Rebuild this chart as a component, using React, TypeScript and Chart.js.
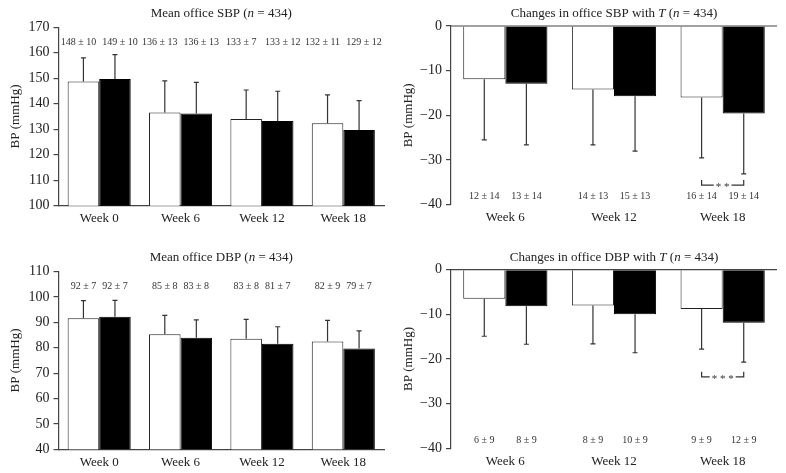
import React, { useEffect, useRef } from 'react';
import { Chart, registerables } from 'chart.js';

Chart.register(...registerables);

const FONT = '"Liberation Serif", "Times New Roman", serif';

// ---------- data ----------
const weeksAll = ['Week 0', 'Week 6', 'Week 12', 'Week 18'];
const weeksChange = ['Week 6', 'Week 12', 'Week 18'];

// Mean office SBP
const sbpWhite = [148.7, 136.6, 134.0, 132.4];
const sbpBlack = [149.7, 136.2, 133.2, 129.7];
const sbpWhiteErr = [9.3, 12.4, 11.4, 11.1];
const sbpBlackErr = [9.6, 12.2, 11.7, 11.5];
const sbpWhiteText = ['148 ± 10', '136 ± 13', '133 ± 7', '132 ± 11'];
const sbpBlackText = ['149 ± 10', '136 ± 13', '133 ± 12', '129 ± 12'];

// Mean office DBP
const dbpWhite = [91.7, 85.3, 83.6, 82.5];
const dbpBlack = [92.2, 84.0, 81.6, 79.7];
const dbpWhiteErr = [6.9, 7.5, 7.6, 8.3];
const dbpBlackErr = [6.5, 7.0, 6.7, 7.0];
const dbpWhiteText = ['92 ± 7', '85 ± 8', '83 ± 8', '82 ± 9'];
const dbpBlackText = ['92 ± 7', '83 ± 8', '81 ± 7', '79 ± 7'];

// Changes in office SBP
const dSbpWhite = [-11.9, -14.2, -16.0];
const dSbpBlack = [-12.9, -15.7, -19.6];
const dSbpWhiteErr = [13.6, 12.4, 13.5];
const dSbpBlackErr = [13.7, 12.3, 13.5];
const dSbpWhiteText = ['12 ± 14', '14 ± 13', '16 ± 14'];
const dSbpBlackText = ['13 ± 14', '15 ± 13', '19 ± 14'];

// Changes in office DBP
const dDbpWhite = [-6.5, -8.0, -8.8];
const dDbpBlack = [-8.2, -10.0, -11.9];
const dDbpWhiteErr = [8.4, 8.6, 9.0];
const dDbpBlackErr = [8.5, 8.6, 8.8];
const dDbpWhiteText = ['6 ± 9', '8 ± 9', '9 ± 9'];
const dDbpBlackText = ['8 ± 9', '10 ± 9', '12 ± 9'];

type Seg = { t: string; i?: boolean };

interface Panel {
  left: number; top: number; w: number; h: number;
  labels: string[];
  white: number[]; black: number[];
  whiteErr: number[]; blackErr: number[];
  whiteText: string[]; blackText: string[];
  min: number; max: number;
  title: Seg[];
  titleY: number;
  chartTop: number; chartBottom: number; yWidth: number; padRight: number;
  textOffset: number; textFromBottom: boolean; textShift: number;
  zeroLine: boolean;
  sig?: { index: number; value: number; text: string };
}

const fmt = (v: any) => {
  const n = Number(v);
  return n < 0 ? '\u2212' + Math.abs(n) : String(n);
};

const overlay = (p: Panel) => ({
  id: 'overlay',
  afterDatasetsDraw(chart: any) {
    const ctx = chart.ctx as CanvasRenderingContext2D;
    const area = chart.chartArea;
    const y = chart.scales.y;
    ctx.save();
    if (p.zeroLine) {
      const zy = y.getPixelForValue(0);
      ctx.strokeStyle = '#444';
      ctx.lineWidth = 1.2;
      ctx.beginPath();
      ctx.moveTo(area.left, zy);
      ctx.lineTo(area.right, zy);
      ctx.stroke();
    }
    const vals = [p.white, p.black];
    const errs = [p.whiteErr, p.blackErr];
    const texts = [p.whiteText, p.blackText];
    for (let d = 0; d < 2; d++) {
      const meta = chart.getDatasetMeta(d);
      meta.data.forEach((bar: any, i: number) => {
        const v = vals[d][i];
        const e = errs[d][i];
        const end = v >= 0 ? v + e : v - e;
        const y0 = y.getPixelForValue(v);
        const y1 = y.getPixelForValue(end);
        ctx.strokeStyle = '#333';
        ctx.lineWidth = 1.2;
        ctx.beginPath();
        ctx.moveTo(bar.x, y0);
        ctx.lineTo(bar.x, y1);
        ctx.moveTo(bar.x - 2.5, y1);
        ctx.lineTo(bar.x + 2.5, y1);
        ctx.stroke();
        ctx.fillStyle = '#333';
        ctx.font = `10px ${FONT}`;
        ctx.textAlign = 'center';
        ctx.textBaseline = 'middle';
        const ty = p.textFromBottom ? area.bottom - p.textOffset : area.top + p.textOffset;
        const shift = d === 0 ? -p.textShift : p.textShift;
        ctx.fillText(texts[d][i], bar.x + shift, ty);
      });
    }
    if (p.sig) {
      const x1 = chart.getDatasetMeta(0).data[p.sig.index].x;
      const x2 = chart.getDatasetMeta(1).data[p.sig.index].x;
      const yb = y.getPixelForValue(p.sig.value);
      ctx.font = `11px ${FONT}`;
      const tw = ctx.measureText(p.sig.text).width;
      const mid = (x1 + x2) / 2;
      ctx.strokeStyle = '#333';
      ctx.lineWidth = 1.2;
      ctx.beginPath();
      ctx.moveTo(x1, yb - 5);
      ctx.lineTo(x1, yb);
      ctx.lineTo(mid - tw / 2 - 2, yb);
      ctx.moveTo(mid + tw / 2 + 2, yb);
      ctx.lineTo(x2, yb);
      ctx.lineTo(x2, yb - 5);
      ctx.stroke();
      ctx.fillStyle = '#333';
      ctx.textAlign = 'center';
      ctx.textBaseline = 'alphabetic';
      ctx.fillText(p.sig.text, mid, yb + 5);
    }
    // title with italic segments
    const fontN = `13px ${FONT}`;
    const fontI = `italic 13px ${FONT}`;
    let total = 0;
    for (const s of p.title) {
      ctx.font = s.i ? fontI : fontN;
      total += ctx.measureText(s.t).width;
    }
    let x = (area.left + area.right) / 2 - total / 2;
    ctx.fillStyle = '#222';
    ctx.textAlign = 'left';
    ctx.textBaseline = 'middle';
    for (const s of p.title) {
      ctx.font = s.i ? fontI : fontN;
      ctx.fillText(s.t, x, p.titleY);
      x += ctx.measureText(s.t).width;
    }
    ctx.restore();
  },
});

const panels: Panel[] = [
  {
    left: 0, top: 0, w: 393, h: 236,
    labels: weeksAll,
    white: sbpWhite, black: sbpBlack, whiteErr: sbpWhiteErr, blackErr: sbpBlackErr,
    whiteText: sbpWhiteText, blackText: sbpBlackText,
    min: 100, max: 170,
    title: [{ t: 'Mean office SBP (' }, { t: 'n', i: true }, { t: ' = 434)' }],
    titleY: 14,
    chartTop: 27.3, chartBottom: 205.7, yWidth: 58.5, padRight: 9,
    textOffset: 14.7, textFromBottom: false, textShift: 5, zeroLine: false,
  },
  {
    left: 393, top: 0, w: 393, h: 236,
    labels: weeksChange,
    white: dSbpWhite, black: dSbpBlack, whiteErr: dSbpWhiteErr, blackErr: dSbpBlackErr,
    whiteText: dSbpWhiteText, blackText: dSbpBlackText,
    min: -40, max: 0,
    title: [{ t: 'Changes in office SBP with ' }, { t: 'T', i: true }, { t: ' (' }, { t: 'n', i: true }, { t: ' = 434)' }],
    titleY: 14,
    chartTop: 26, chartBottom: 204.7, yWidth: 58, padRight: 9,
    textOffset: 8, textFromBottom: true, textShift: 0, zeroLine: true,
    sig: { index: 2, value: -35.6, text: '* *' },
  },
  {
    left: 0, top: 236, w: 393, h: 237,
    labels: weeksAll,
    white: dbpWhite, black: dbpBlack, whiteErr: dbpWhiteErr, blackErr: dbpBlackErr,
    whiteText: dbpWhiteText, blackText: dbpBlackText,
    min: 40, max: 110,
    title: [{ t: 'Mean office DBP (' }, { t: 'n', i: true }, { t: ' = 434)' }],
    titleY: 21.5,
    chartTop: 35.7, chartBottom: 213.3, yWidth: 58.5, padRight: 9,
    textOffset: 14.3, textFromBottom: false, textShift: 0, zeroLine: false,
  },
  {
    left: 393, top: 236, w: 393, h: 237,
    labels: weeksChange,
    white: dDbpWhite, black: dDbpBlack, whiteErr: dDbpWhiteErr, blackErr: dDbpBlackErr,
    whiteText: dDbpWhiteText, blackText: dDbpBlackText,
    min: -40, max: 0,
    title: [{ t: 'Changes in office DBP with ' }, { t: 'T', i: true }, { t: ' (' }, { t: 'n', i: true }, { t: ' = 434)' }],
    titleY: 21.5,
    chartTop: 33.7, chartBottom: 212.3, yWidth: 58, padRight: 9,
    textOffset: 8.3, textFromBottom: true, textShift: 0, zeroLine: true,
    sig: { index: 2, value: -24.0, text: '* * *' },
  },
];

function PanelChart({ p }: { p: Panel }) {
  const ref = useRef<HTMLCanvasElement>(null);
  useEffect(() => {
    const chart = new Chart(ref.current as HTMLCanvasElement, {
      type: 'bar',
      data: {
        labels: p.labels,
        datasets: [
          {
            data: p.white, backgroundColor: '#ffffff', borderColor: '#222',
            borderWidth: 1, categoryPercentage: 0.775, barPercentage: 1,
          },
          {
            data: p.black, backgroundColor: '#000000', borderColor: '#000',
            borderWidth: 1, categoryPercentage: 0.775, barPercentage: 1,
          },
        ],
      },
      options: {
        responsive: false,
        animation: false,
        layout: { padding: { top: p.chartTop, right: p.padRight, left: 0, bottom: 0 } },
        plugins: {
          legend: { display: false },
          tooltip: { enabled: false },
          title: { display: false },
        },
        scales: {
          x: {
            grid: { display: false, drawTicks: false },
            border: { display: !p.zeroLine, color: '#444', width: 1.2 },
            ticks: { color: '#222', font: { family: FONT, size: 13 }, padding: 5, maxRotation: 0 },
            afterFit: (s: any) => { s.height = p.h - p.chartBottom; },
          },
          y: {
            min: p.min,
            max: p.max,
            ticks: {
              stepSize: 10, color: '#222', font: { family: FONT, size: 14 }, padding: 4,
              callback: fmt,
            },
            grid: { drawOnChartArea: false, drawTicks: true, tickLength: 5, color: '#444', lineWidth: 1.2 },
            border: { display: true, color: '#444', width: 1.2 },
            title: {
              display: true, text: 'BP (mmHg)', color: '#222',
              font: { family: FONT, size: 13 }, padding: { top: 8, bottom: 0 },
            },
            afterFit: (s: any) => { s.width = p.yWidth; },
          },
        },
      } as any,
      plugins: [overlay(p)],
    });
    return () => chart.destroy();
  }, []);
  return (
    <canvas
      ref={ref}
      width={p.w}
      height={p.h}
      style={{ position: 'absolute', left: p.left, top: p.top, width: p.w, height: p.h }}
    />
  );
}

export default function App() {
  return (
    <div style={{ position: 'absolute', left: 0, top: 0, width: 786, height: 473, background: '#fff' }}>
      {panels.map((p, i) => (
        <PanelChart key={i} p={p} />
      ))}
    </div>
  );
}
